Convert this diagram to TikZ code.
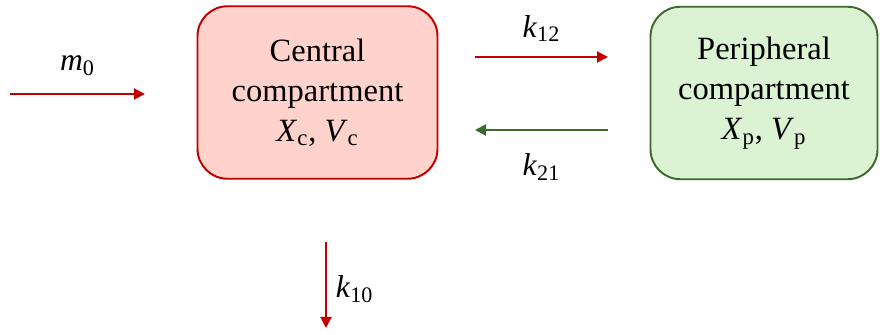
\documentclass[tikz,border=0pt]{standalone}
\usepackage{fontspec}
\setmainfont{Liberation Serif}
\usetikzlibrary{arrows.meta,positioning}
\definecolor{brick}{HTML}{C00000}
\definecolor{salmon}{HTML}{FFD3CB}
\definecolor{moss}{HTML}{3B6A2C}
\definecolor{mint}{HTML}{DBF2D3}
\tikzset{compartment/.style={rounded corners=0.6cm,align=center,font=\fontsize{18.5}{22.8}\selectfont,line width=1.1pt,minimum width=4.7cm,minimum height=3.45cm,inner sep=0pt}, rate/.style={-{Triangle[length=2.2mm,width=2.2mm]},line width=1.1pt}, rel/.style={font=\fontsize{18}{22}\selectfont,inner sep=0pt,text=black}}
\begin{document}
\begin{tikzpicture}
\useasboundingbox (0,0) rectangle (17.6,6.7);
\node[compartment,draw=brick,fill=salmon,minimum width=4.8cm] (central) at (6.35,4.85) {Central\\compartment\\\textit{X}\textsubscript{c}, \textit{V}\textsubscript{c}};
\node[compartment,draw=moss,fill=mint,minimum width=4.54cm] (periph) at (15.28,4.84) {Peripheral\\compartment\\\textit{X}\textsubscript{p}, \textit{V}\textsubscript{p}};
\coordinate (dose) at (0.2,4.82);
\coordinate (dosein) at (2.9,4.82);
\coordinate (c1) at (9.5,5.56);
\coordinate (p1) at (12.16,5.56);
\coordinate (p2) at (12.16,4.1);
\coordinate (c2) at (9.5,4.1);
\coordinate (elim) at (6.52,1.86);
\coordinate (out) at (6.52,0.14);
\draw[rate,brick] (dose)--node[rel,above=10pt]{\textit{m}\textsubscript{0}}(dosein);
\draw[rate,brick] (c1)--node[rel,above=8pt]{\textit{k}\textsubscript{12}}(p1);
\draw[rate,moss] (p2)--node[rel,below=13pt]{\textit{k}\textsubscript{21}}(c2);
\draw[rate,brick] (elim)--node[rel,right=5pt,pos=0.55]{\textit{k}\textsubscript{10}}(out);
\end{tikzpicture}
\end{document}
